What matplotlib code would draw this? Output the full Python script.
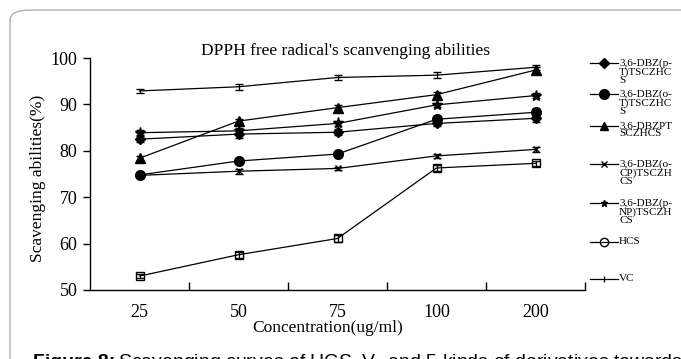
import matplotlib.pyplot as plt
from matplotlib.patches import FancyBboxPatch
from matplotlib.lines import Line2D

# concentrations (ug/ml)
conc = ["25", "50", "75", "100", "200"]

# scavenging abilities (%)
p_t = [82.5, 83.6, 84.0, 85.9, 87.0]
o_t = [74.8, 77.8, 79.3, 86.8, 88.3]
pts = [78.4, 86.4, 89.3, 92.1, 97.4]
o_cp = [74.7, 75.6, 76.2, 78.9, 80.3]
p_np = [83.9, 84.3, 85.9, 89.9, 91.9]
hcs = [53.0, 57.6, 61.1, 76.3, 77.3]
vc = [92.9, 93.8, 95.8, 96.3, 98.0]

err_p_t = [0.7, 0.8, 0.6, 0.6, 0.8]
err_o_t = [0.5, 0.5, 0.5, 0.6, 0.6]
err_pts = [0.5, 0.4, 0.5, 0.5, 0.6]
err_o_cp = [0.4, 0.5, 0.4, 0.5, 0.5]
err_p_np = [0.6, 0.7, 0.5, 0.4, 0.5]
err_hcs = [0.5, 0.6, 0.7, 0.7, 0.6]
err_vc = [0.5, 0.6, 0.5, 0.6, 0.5]

labels = ["3,6-DBZ(p-\nT)TSCZHC\nS", "3,6-DBZ(o-\nT)TSCZHC\nS", "3,6-DBZPT\nSCZHCS",
          "3,6-DBZ(o-\nCP)TSCZH\nCS", "3,6-DBZ(p-\nNP)TSCZH\nCS", "HCS", "VC"]
series = [p_t, o_t, pts, o_cp, p_np, hcs, vc]
errs = [err_p_t, err_o_t, err_pts, err_o_cp, err_p_np, err_hcs, err_vc]
markers = ["D", "o", "^", "x", "*", "s", None]
msizes = [5, 7, 7, 5, 8, 6, 0]
leg_markers = ["D", "o", "^", "x", "*", "o", "|"]
leg_sizes = [5, 7, 6, 4, 5, 6, 5]

W, H = 681, 359
fig = plt.figure(figsize=(W / 100, H / 100), dpi=100)
serif = "Liberation Serif"

# rounded frame
frame = FancyBboxPatch((10 / W, -0.2), 1.2, 1 - 10 / H + 0.2,
                       boxstyle="round,pad=0,rounding_size=0.03",
                       transform=fig.transFigure, fill=False,
                       edgecolor="#b0b0b0", linewidth=1.0)
fig.patches.append(frame)

ax = fig.add_axes([90 / W, 1 - 290 / H, (585 - 90) / W, (290 - 58) / H])
x = list(range(len(conc)))
for ys, er, m, ms in zip(series, errs, markers, msizes):
    fill = "none" if m == "s" else "black"
    ax.errorbar(x, ys, yerr=er, color="black", linewidth=0.9, elinewidth=0.9,
                capsize=3, capthick=0.9, marker=m, markersize=ms,
                markerfacecolor=fill, markeredgecolor="black",
                markeredgewidth=1.0)

ax.set_xlim(-0.5, 4.5)
ax.set_ylim(50, 100)
ax.set_yticks([50, 60, 70, 80, 90, 100])
ax.set_xticks(x)
ax.set_xticklabels(conc, fontfamily=serif, fontsize=13)
ax.set_xticks([0.5, 1.5, 2.5, 3.5, 4.5], minor=True)
ax.tick_params(axis="x", which="major", length=0, pad=10)
ax.tick_params(axis="x", which="minor", direction="in", length=6, width=1)
ax.tick_params(axis="y", direction="out", length=5, width=1, pad=4)
for lab in ax.get_yticklabels():
    lab.set_fontfamily(serif)
    lab.set_fontsize(13)
for s in ["top", "right"]:
    ax.spines[s].set_visible(False)
for s in ["left", "bottom"]:
    ax.spines[s].set_linewidth(1.0)

fig.text(345 / W, 1 - 51 / H, "DPPH free radical's scanvenging abilities",
         fontfamily=serif, fontsize=12.5, ha="center", va="center")
fig.text(38 / W, 1 - 178 / H, "Scavenging abilities(%)", fontfamily=serif,
         fontsize=12.5, rotation=90, ha="center", va="center")
fig.text(328 / W, 1 - 328 / H, "Concentration(ug/ml)", fontfamily=serif,
         fontsize=12.5, ha="center", va="center")

# legend drawn by hand on the right
leg_y = [63, 94, 126, 164, 203, 242, 279]
for lab, m, ms, yy in zip(labels, leg_markers, leg_sizes, leg_y):
    fy = 1 - yy / H
    fill = "none" if lab == "HCS" else "black"
    fig.add_artist(Line2D([590 / W, 618 / W], [fy, fy], color="black",
                          linewidth=0.9, transform=fig.transFigure))
    fig.add_artist(Line2D([604 / W], [fy], marker=m, markersize=ms,
                          markerfacecolor=fill, markeredgecolor="black",
                          color="black", transform=fig.transFigure))
    fig.text(619 / W, fy + 5 / H, lab, fontfamily=serif, fontsize=8,
             ha="left", va="top", linespacing=0.92)

# caption, mostly cut off by the bottom edge
fig.text(33 / W, 1 - 367 / H, "Figure 8:", fontfamily="Liberation Sans",
         fontweight="bold", fontsize=14, ha="left", va="baseline")
fig.text(118 / W, 1 - 367 / H,
         r"Scavenging curves of HCS, V$_\mathregular{c}$ and 5 kinds of derivatives towards",
         fontfamily="Liberation Sans", fontsize=14, ha="left", va="baseline")

fig.savefig("out.png", dpi=100)
